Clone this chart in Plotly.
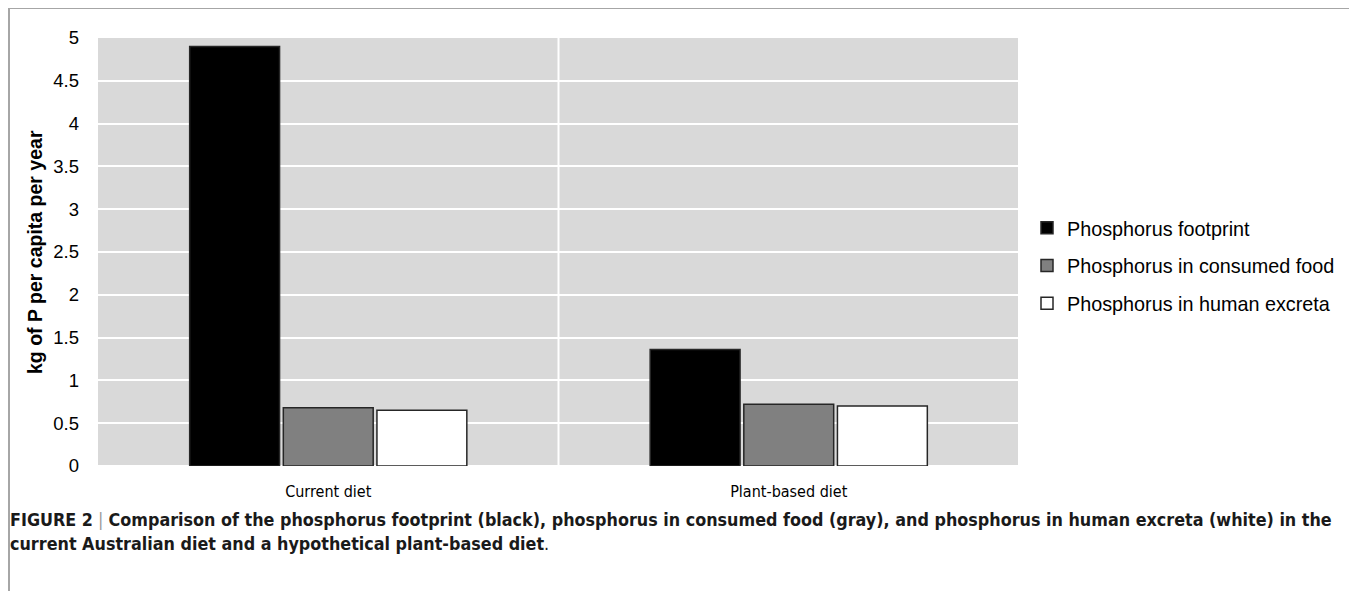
import plotly.graph_objects as go

categories = ["Current diet", "Plant-based diet"]
series_names = ["Phosphorus footprint", "Phosphorus in consumed food", "Phosphorus in human excreta"]
footprint = [4.9, 1.36]
consumed_food = [0.68, 0.72]
human_excreta = [0.65, 0.70]
y_tickvals = [0, 0.5, 1, 1.5, 2, 2.5, 3, 3.5, 4, 4.5, 5]
y_ticktext = ["0", "0.5", "1", "1.5", "2", "2.5", "3", "3.5", "4", "4.5", "5"]

fills = ["#000000", "#808080", "#ffffff"]
values = [footprint, consumed_food, human_excreta]

# page body has an 8px margin; figure coordinates = screen - 8
W, H = 1349, 583
L, T = 90, 30
PR, PB = 1012, 458  # plot right / bottom in figure px
R, B = W - PR, H - PB
pw = PR - L
ph = PB - T

def px_x(x):
    return (x - L) / pw

def px_y(y):
    return (PB - y) / ph

fig = go.Figure()
for name, vals, col in zip(series_names, values, fills):
    fig.add_trace(go.Bar(
        x=categories, y=vals, name=name, legendgroup=name,
        marker=dict(color=col, line=dict(color="#262626", width=1.5)),
    ))

cond = "DejaVu Sans Condensed, Liberation Sans Narrow, Liberation Sans, Arial"
fig.update_layout(
    width=W, height=H,
    margin=dict(l=L, r=R, t=T, b=B, autoexpand=False),
    paper_bgcolor="white", plot_bgcolor="#d9d9d9",
    barmode="group", bargap=0.39, bargroupgap=0.04,
    font=dict(family="Liberation Sans, Arial, sans-serif", color="#000000"),
    showlegend=True,
    legend=dict(x=px_x(1019), xanchor="left", y=px_y(258), yanchor="middle",
                font=dict(size=19.8, family="Liberation Sans, Arial, sans-serif"),
                tracegroupgap=9, bgcolor="rgba(0,0,0,0)"),
    xaxis=dict(showgrid=False, zeroline=False, showline=False, ticks="",
               tickfont=dict(size=16, family=cond),
               ticklabelstandoff=14),
    yaxis=dict(range=[0, 5], tickvals=y_tickvals, ticktext=y_ticktext,
               showgrid=True, gridcolor="#ffffff", gridwidth=2,
               zeroline=True, zerolinecolor="#ffffff", zerolinewidth=2,
               showline=False, ticks="", tickfont=dict(size=18.5),
               ticklabelstandoff=18),
)

# vertical category separators (white grid-like lines)
for xv in [0.5, 1.5]:
    fig.add_shape(type="line", xref="x", yref="paper", x0=xv, x1=xv, y0=0, y1=1,
                  line=dict(color="#ffffff", width=2), layer="below")

# outer frame (top, left, right)
frame = dict(color="#a6a6a6", width=2)
fx0, fx1 = px_x(1), px_x(1346)
fyt, fyb = px_y(0), px_y(H)
fig.add_shape(type="line", xref="paper", yref="paper", x0=fx0, x1=fx1, y0=fyt, y1=fyt, line=frame)
fig.add_shape(type="line", xref="paper", yref="paper", x0=fx0, x1=fx0, y0=fyt, y1=fyb, line=frame)
fig.add_shape(type="line", xref="paper", yref="paper", x0=fx1, x1=fx1, y0=fyt, y1=fyb, line=frame)

# y axis title
fig.add_annotation(text="<b>kg of P per capita per year</b>", textangle=-90,
                   xref="paper", yref="paper", x=px_x(27), y=px_y(244),
                   xanchor="center", yanchor="middle", showarrow=False,
                   font=dict(size=19.5, family="Liberation Sans, Arial, sans-serif"))

# caption
cap_font = dict(size=17.8, family=cond, color="#1a1a1a")
line1 = ("<b>FIGURE 2</b> <span style='color:#9a9a9a'>|</span> <b>Comparison of the phosphorus footprint (black), "
         "phosphorus in consumed food (gray), and phosphorus in human excreta (white) in the</b>")
line2 = "<b>current Australian diet and a hypothetical plant-based diet</b>."
fig.add_annotation(text=line1, xref="paper", yref="paper", x=px_x(0), y=px_y(511),
                   xanchor="left", yanchor="middle", showarrow=False, font=cap_font)
fig.add_annotation(text=line2, xref="paper", yref="paper", x=px_x(0), y=px_y(535),
                   xanchor="left", yanchor="middle", showarrow=False, font=cap_font)

fig.write_html("out.html")
